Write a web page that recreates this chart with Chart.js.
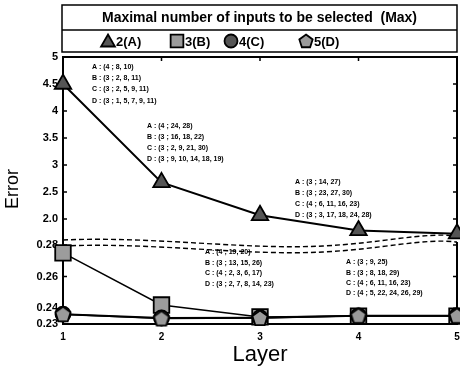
<!DOCTYPE html>
<html>
<head>
<meta charset="utf-8">
<script src="https://cdn.jsdelivr.net/npm/chart.js"></script>
<style>
  html, body { margin: 0; padding: 0; background: #fff; }
</style>
</head>
<body>
<canvas id="errChart" width="460" height="369"></canvas>
<script>
// values
const layers = [1, 2, 3, 4, 5];
const seriesNames = ['2(A)', '3(B)', '4(C)', '5(D)'];
const errA = [4.5, 2.68, 2.07, 1.79, 1.73];
const errB = [0.275, 0.242, 0.2345, 0.235, 0.235];
const errC = [0.2362, 0.2338, 0.234, 0.2352, 0.2352];
const errD = [0.2362, 0.2335, 0.2338, 0.2352, 0.2352];

const xTicks = [1, 2, 3, 4, 5];
const yTopTicks = [2.0, 2.5, 3, 3.5, 4, 4.5, 5];
const yTopLabels = ['2.0', '2.5', '3', '3.5', '4', '4.5', '5'];
const yBotTicks = [0.23, 0.24, 0.26, 0.28];
const yBotLabels = ['0.23', '0.24', '0.26', '0.28'];

const legendTitle = 'Maximal number of inputs to be selected  (Max)';

// selected inputs per layer
const notesL1 = ['A : (4 ; 8, 10)', 'B : (3 ; 2, 8, 11)', 'C : (3 ; 2, 5, 9, 11)', 'D : (3 ; 1, 5, 7, 9, 11)'];
const notesL2 = ['A : (4 ; 24, 28)', 'B : (3 ; 16, 18, 22)', 'C : (3 ; 2, 9, 21, 30)', 'D : (3 ; 9, 10, 14, 18, 19)'];
const notesL3 = ['A : (3 ; 14, 27)', 'B : (3 ; 23, 27, 30)', 'C : (4 ; 6, 11, 16, 23)', 'D : (3 ; 3, 17, 18, 24, 28)'];
const notesL4 = ['A : (4 ; 19, 20)', 'B : (3 ; 13, 15, 26)', 'C : (4 ; 2, 3, 6, 17)', 'D : (3 ; 2, 7, 8, 14, 23)'];
const notesL5 = ['A : (3 ; 9, 25)', 'B : (3 ; 8, 18, 29)', 'C : (4 ; 6, 11, 16, 23)', 'D : (4 ; 5, 22, 24, 26, 29)'];

const FONT = "'Liberation Sans', Arial, sans-serif";
Chart.defaults.font.family = FONT;
Chart.defaults.color = '#000';

// where the note blocks sit (pixels)
const noteLayout = [
    { lines: notesL1, x: 92, y: 67, step: 11.2 },
    { lines: notesL2, x: 147, y: 126, step: 10.9 },
    { lines: notesL3, x: 295, y: 182.5, step: 10.7 },
    { lines: notesL4, x: 205, y: 252.5, step: 10.4 },
    { lines: notesL5, x: 346, y: 262.5, step: 10.1 }
];

// pentagon marker (no built-in style for it)
function makePentagon(r, fill) {
    const s = Math.ceil(r * 2 + 4);
    const c = document.createElement('canvas');
    c.width = s; c.height = s;
    const g = c.getContext('2d');
    g.beginPath();
    for (let i = 0; i < 5; i++) {
        const a = -Math.PI / 2 + i * 2 * Math.PI / 5;
        const px = s / 2 + r * Math.cos(a), py = s / 2 + r * Math.sin(a) + 0.6;
        if (i) g.lineTo(px, py); else g.moveTo(px, py);
    }
    g.closePath();
    g.fillStyle = fill;
    g.fill();
    g.lineWidth = 1.8;
    g.strokeStyle = '#000';
    g.stroke();
    return c;
}

const pentagon = makePentagon(8, '#9a9a9a');
const pentagonSmall = makePentagon(7, '#9a9a9a');

const markers = [
    { style: 'triangle', fill: '#555555', r: 9.5, legendR: 8 },
    { style: 'rect', fill: '#9c9c9c', r: 11, legendR: 9 },
    { style: 'circle', fill: '#555555', r: 7.5, legendR: 6.5 },
    { style: pentagon, fill: '#9a9a9a', r: 8, legendR: 7 }
];

function tickLabel(ticks, labels, v) {
    const i = ticks.findIndex(t => Math.abs(t - v) < 1e-9);
    return i < 0 ? '' : labels[i];
}

function drawMarker(ctx, style, x, y, r, fill) {
    ctx.save();
    ctx.fillStyle = fill;
    ctx.strokeStyle = '#000';
    ctx.lineWidth = 1.8;
    ctx.beginPath();
    if (style === 'triangle') {
        for (let i = 0; i < 3; i++) {
            const a = -Math.PI / 2 + i * 2 * Math.PI / 3;
            const px = x + r * Math.cos(a), py = y + r * Math.sin(a);
            if (i) ctx.lineTo(px, py); else ctx.moveTo(px, py);
        }
        ctx.closePath();
    } else if (style === 'rect') {
        const h = r * Math.SQRT1_2;
        ctx.rect(x - h, y - h, 2 * h, 2 * h);
    } else if (style === 'circle') {
        ctx.arc(x, y, r, 0, Math.PI * 2);
    } else {
        ctx.drawImage(pentagonSmall, x - pentagonSmall.width / 2, y - pentagonSmall.height / 2);
        ctx.restore();
        return;
    }
    ctx.fill();
    ctx.stroke();
    ctx.restore();
}

// frame, inward ticks, axis break, notes, legend box
const decorPlugin = {
    id: 'decor',
    beforeDraw(chart) {
        const ctx = chart.ctx;
        ctx.save();
        ctx.fillStyle = '#fff';
        ctx.fillRect(0, 0, chart.width, chart.height);
        ctx.restore();
    },
    beforeDatasetsDraw(chart) {
        const { ctx, chartArea: a, scales } = chart;
        ctx.save();
        ctx.strokeStyle = '#000';
        ctx.lineWidth = 2;
        ctx.strokeRect(a.left, a.top, a.right - a.left, a.bottom - a.top);

        ctx.lineWidth = 1.5;
        ctx.beginPath();
        const tl = 4;
        xTicks.forEach(v => {
            const px = scales.x.getPixelForValue(v);
            ctx.moveTo(px, a.bottom); ctx.lineTo(px, a.bottom - tl);
            ctx.moveTo(px, a.top); ctx.lineTo(px, a.top + tl);
        });
        [[scales.yTop, yTopTicks], [scales.yBot, yBotTicks]].forEach(([s, ts]) => {
            ts.forEach(v => {
                const py = s.getPixelForValue(v);
                ctx.moveTo(a.left, py); ctx.lineTo(a.left + tl, py);
                ctx.moveTo(a.right, py); ctx.lineTo(a.right - tl, py);
            });
        });
        ctx.stroke();

        // axis break: gap in the right side then two wavy dashed lines
        const yb = scales.yTop.bottom;
        ctx.fillStyle = '#fff';
        ctx.fillRect(a.right - 2, yb - 6, 4, 10);
        ctx.setLineDash([5, 3]);
        ctx.lineWidth = 1.4;
        [0, 6].forEach(off => {
            ctx.beginPath();
            ctx.moveTo(a.left, yb + 2 + off);
            ctx.bezierCurveTo(a.left + 90, yb - 2 + off, a.left + 180, yb + 12 + off, a.left + 260, yb + 8 + off);
            ctx.bezierCurveTo(a.left + 320, yb + 5 + off, a.left + 360, yb - 6 + off, a.right, yb - 2 + off);
            ctx.stroke();
        });
        ctx.restore();
    },
    afterDraw(chart) {
        const { ctx } = chart;
        ctx.save();
        ctx.fillStyle = '#000';

        // notes
        ctx.font = 'bold 7px ' + FONT;
        ctx.textAlign = 'left';
        ctx.textBaseline = 'middle';
        noteLayout.forEach(n => {
            n.lines.forEach((t, i) => ctx.fillText(t, n.x, n.y + i * n.step));
        });

        // y axis title
        ctx.save();
        ctx.translate(13, 189);
        ctx.rotate(-Math.PI / 2);
        ctx.font = '18px ' + FONT;
        ctx.textAlign = 'center';
        ctx.fillText('Error', 0, 0);
        ctx.restore();

        // legend box
        const bx = 62, by = 5, bw = 395, bh = 47;
        ctx.strokeStyle = '#000';
        ctx.lineWidth = 1.5;
        ctx.strokeRect(bx, by, bw, bh);
        ctx.beginPath();
        ctx.moveTo(bx, 30); ctx.lineTo(bx + bw, 30);
        ctx.stroke();
        ctx.font = 'bold 14px ' + FONT;
        ctx.textAlign = 'center';
        ctx.fillText(legendTitle, bx + bw / 2, 18);

        const entryX = [108, 177, 231, 306];
        ctx.font = 'bold 13px ' + FONT;
        ctx.textAlign = 'left';
        seriesNames.forEach((name, i) => {
            const m = markers[i];
            drawMarker(ctx, m.style, entryX[i], 41 + (i === 0 ? 1.5 : 0), m.legendR, m.fill);
            ctx.fillStyle = '#000';
            ctx.fillText(name, entryX[i] + 8, 42);
        });
        ctx.restore();
    }
};

const seriesData = [errA, errB, errC, errD];
const lineWidths = [2, 1.5, 2, 1.5];
const drawOrder = [0, 3, 2, 1];

const datasets = seriesNames.map((name, i) => ({
    label: name,
    data: layers.map((x, k) => ({ x: x, y: seriesData[i][k] })),
    yAxisID: i === 0 ? 'yTop' : 'yBot',
    borderColor: '#000',
    borderWidth: lineWidths[i],
    backgroundColor: markers[i].fill,
    pointStyle: markers[i].style,
    pointRadius: markers[i].r,
    pointHoverRadius: markers[i].r,
    pointBackgroundColor: markers[i].fill,
    pointBorderColor: '#000',
    pointBorderWidth: 1.8,
    tension: 0,
    clip: false,
    order: drawOrder[i]
}));

const tickFont = { size: 11, weight: 'bold' };

new Chart(document.getElementById('errChart'), {
    type: 'line',
    data: { datasets: datasets },
    plugins: [decorPlugin],
    options: {
        responsive: false,
        animation: false,
        events: [],
        layout: { autoPadding: false, padding: { top: 57, right: 3, bottom: 0, left: 0 } },
        plugins: {
            legend: { display: false },
            tooltip: { enabled: false }
        },
        scales: {
            x: {
                type: 'linear',
                min: 1,
                max: 5,
                grid: { display: false, drawTicks: false },
                border: { display: false },
                afterBuildTicks: s => { s.ticks = xTicks.map(v => ({ value: v })); },
                afterFit: s => { s.height = 45; s.paddingLeft = 0; s.paddingRight = 0; },
                ticks: { padding: 7, font: { size: 10, weight: 'bold' }, color: '#000', maxRotation: 0, callback: v => String(v) },
                title: { display: true, text: 'Layer', font: { size: 22 }, color: '#000', padding: { top: 0, bottom: 1 } }
            },
            yBot: {
                type: 'linear',
                position: 'left',
                stack: 'err',
                stackWeight: 86,
                min: 0.23,
                max: 0.2844,
                grid: { display: false, drawTicks: false },
                border: { display: false },
                afterBuildTicks: s => { s.ticks = yBotTicks.map(v => ({ value: v })); },
                afterFit: s => { s.width = 63; },
                ticks: { padding: 5, autoSkip: false, font: tickFont, color: '#000', callback: v => tickLabel(yBotTicks, yBotLabels, v) }
            },
            yTop: {
                type: 'linear',
                position: 'left',
                stack: 'err',
                stackWeight: 181,
                min: 1.65,
                max: 5,
                grid: { display: false, drawTicks: false },
                border: { display: false },
                afterBuildTicks: s => { s.ticks = yTopTicks.map(v => ({ value: v })); },
                afterFit: s => { s.width = 63; },
                ticks: { padding: 5, autoSkip: false, font: tickFont, color: '#000', callback: v => tickLabel(yTopTicks, yTopLabels, v) }
            }
        }
    }
});
</script>
</body>
</html>
